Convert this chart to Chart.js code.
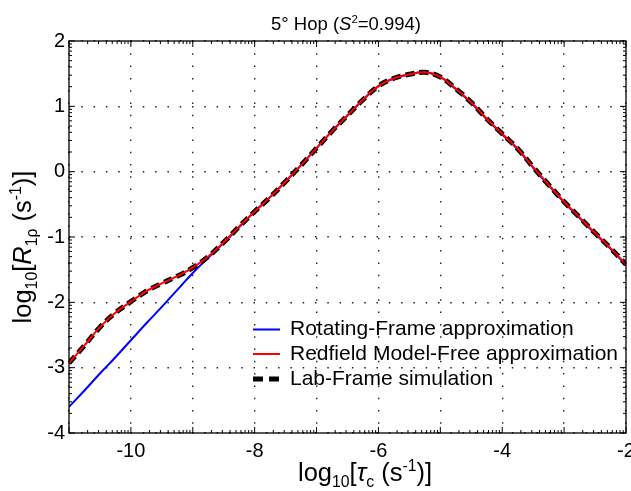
<!DOCTYPE html>
<html>
<head>
<meta charset="utf-8">
<script src="https://cdn.jsdelivr.net/npm/chart.js@4.4.1/dist/chart.umd.min.js"></script>
<style>
  html, body { margin: 0; padding: 0; background: #fff; }
</style>
</head>
<body>
<canvas id="chart" width="631" height="491"></canvas>
<script>
// log10 of correlation time tau_c
const tauLog = [-11, -10.75, -10.5, -10.25, -10, -9.75, -9.5, -9.25, -9, -8.75, -8.5, -8.25,
    -8, -7.75, -7.5, -7.25, -7, -6.75, -6.5, -6.25, -6, -5.75, -5.5, -5.25,
    -5, -4.75, -4.5, -4.25, -4, -3.75, -3.5, -3.25, -3, -2.75, -2.5, -2.25, -2];

// log10 R1rho for each model
const rotatingFrame = [-3.60, -3.35, -3.09, -2.84, -2.58, -2.32, -2.07, -1.81, -1.55, -1.32, -1.09, -0.85,
    -0.61, -0.39, -0.15, 0.10, 0.36, 0.62, 0.86, 1.10, 1.31, 1.43, 1.49, 1.52,
    1.45, 1.26, 1.05, 0.80, 0.57, 0.34, 0.06, -0.21, -0.47, -0.71, -0.95, -1.18, -1.43];
const redfieldMF = [-2.93, -2.66, -2.38, -2.16, -1.99, -1.83, -1.71, -1.60, -1.47, -1.30, -1.08, -0.84,
    -0.61, -0.39, -0.15, 0.10, 0.36, 0.62, 0.86, 1.10, 1.31, 1.43, 1.49, 1.52,
    1.45, 1.27, 1.06, 0.81, 0.58, 0.35, 0.07, -0.20, -0.46, -0.70, -0.94, -1.17, -1.42];
const labFrame = [-2.93, -2.66, -2.38, -2.16, -1.99, -1.83, -1.71, -1.60, -1.47, -1.30, -1.08, -0.84,
    -0.61, -0.39, -0.15, 0.10, 0.36, 0.62, 0.86, 1.10, 1.31, 1.43, 1.49, 1.52,
    1.45, 1.27, 1.06, 0.81, 0.58, 0.35, 0.07, -0.20, -0.46, -0.70, -0.94, -1.17, -1.42];

const seriesLabels = ['Rotating-Frame approximation', 'Redfield Model-Free approximation', 'Lab-Frame simulation'];
const xTickLabels = [-10, -8, -6, -4, -2];
const yTickLabels = [2, 1, 0, -1, -2, -3, -4];

const FONT = "'Liberation Sans', Arial, Helvetica, sans-serif";
Chart.defaults.font.family = FONT;
Chart.defaults.color = '#000';

function points(ys) {
    return tauLog.map((x, i) => ({x: x, y: ys[i]}));
}

// text with italics, sub- and superscripts
function drawRich(ctx, parts, size, x, y) {
    const fontFor = st => {
        const s = (st === 'sub' || st === 'sup') ? size * 0.62 : size;
        return (st === 'i' ? 'italic ' : '') + s + 'px ' + FONT;
    };
    let w = 0;
    parts.forEach(p => { ctx.font = fontFor(p[1]); w += ctx.measureText(p[0]).width; });
    let cx = x - w / 2;
    ctx.textAlign = 'left';
    ctx.textBaseline = 'alphabetic';
    parts.forEach(p => {
        ctx.font = fontFor(p[1]);
        let dy = 0;
        if (p[1] === 'sub') dy = size * 0.22;
        if (p[1] === 'sup') dy = -size * 0.38;
        ctx.fillText(p[0], cx, y + dy);
        cx += ctx.measureText(p[0]).width;
    });
}

const decorations = {
    id: 'decorations',
    afterDraw(chart) {
        const ctx = chart.ctx;
        const a = chart.chartArea;
        const xs = chart.scales.x, ys = chart.scales.y;
        ctx.save();
        ctx.fillStyle = '#000';
        ctx.strokeStyle = '#000';

        // box
        ctx.lineWidth = 1.3;
        ctx.strokeRect(a.left, a.top, a.right - a.left, a.bottom - a.top);

        // inward ticks, major + log-style minor
        ctx.lineWidth = 1;
        ctx.beginPath();
        for (let k = -11; k <= -2; k++) {
            const px = xs.getPixelForValue(k);
            ctx.moveTo(px, a.bottom); ctx.lineTo(px, a.bottom - 6);
            ctx.moveTo(px, a.top); ctx.lineTo(px, a.top + 6);
            if (k < -2) {
                for (let m = 2; m <= 9; m++) {
                    const q = xs.getPixelForValue(k + Math.log10(m));
                    ctx.moveTo(q, a.bottom); ctx.lineTo(q, a.bottom - 3);
                    ctx.moveTo(q, a.top); ctx.lineTo(q, a.top + 3);
                }
            }
        }
        for (let k = -4; k <= 2; k++) {
            const py = ys.getPixelForValue(k);
            ctx.moveTo(a.left, py); ctx.lineTo(a.left + 6, py);
            ctx.moveTo(a.right, py); ctx.lineTo(a.right - 6, py);
            if (k < 2) {
                for (let m = 2; m <= 9; m++) {
                    const q = ys.getPixelForValue(k + Math.log10(m));
                    ctx.moveTo(a.left, q); ctx.lineTo(a.left + 3, q);
                    ctx.moveTo(a.right, q); ctx.lineTo(a.right - 3, q);
                }
            }
        }
        ctx.stroke();

        // legend inside the axes
        ctx.save();
        ctx.beginPath();
        ctx.rect(a.left, a.top, a.right - a.left, a.bottom - a.top);
        ctx.clip();
        const rows = [335, 359.5, 384.5];
        chart.data.datasets.forEach((ds, i) => {
            const yb = rows[i];
            ctx.strokeStyle = ds.borderColor;
            ctx.lineWidth = ds.borderDash ? 5 : ds.borderWidth;
            ctx.setLineDash(ds.borderDash ? [10, 6] : []);
            ctx.beginPath();
            ctx.moveTo(253, yb - 5.5);
            ctx.lineTo(280, yb - 5.5);
            ctx.stroke();
            ctx.setLineDash([]);
            ctx.font = '21px ' + FONT;
            ctx.textAlign = 'left';
            ctx.textBaseline = 'alphabetic';
            ctx.fillText(ds.label, 290, yb);
        });
        ctx.restore();

        // titles
        ctx.fillStyle = '#000';
        drawRich(ctx, [['5° Hop (', ''], ['S', 'i'], ['2', 'sup'], ['=0.994)', '']], 18.5, 346, 30);
        drawRich(ctx, [['log', ''], ['10', 'sub'], ['[', ''], ['τ', 'i'], ['c', 'sub'],
            [' (s', ''], ['-1', 'sup'], [')]', '']], 25.5, 365, 481);
        ctx.translate(31, 247);
        ctx.rotate(-Math.PI / 2);
        drawRich(ctx, [['log', ''], ['10', 'sub'], ['[', ''], ['R', 'i'], ['1ρ', 'sub'],
            [' (s', ''], ['-1', 'sup'], [')]', '']], 25.5, 0, 0);
        ctx.restore();
    }
};

new Chart(document.getElementById('chart'), {
    type: 'line',
    data: {
        datasets: [
            {
                label: seriesLabels[0],
                data: points(rotatingFrame),
                borderColor: '#0000ff',
                borderWidth: 2,
                order: 2,
            },
            {
                label: seriesLabels[1],
                data: points(redfieldMF),
                borderColor: '#ff0000',
                borderWidth: 2,
                order: 0,
            },
            {
                label: seriesLabels[2],
                data: points(labFrame),
                borderColor: '#000000',
                borderWidth: 5,
                borderDash: [9, 5],
                order: 1,
            },
        ],
    },
    options: {
        responsive: false,
        animation: false,
        events: [],
        layout: { padding: { top: 41, right: 5, left: 0, bottom: 0 } },
        elements: {
            point: { radius: 0 },
            line: { tension: 0.4, fill: false },
        },
        plugins: {
            legend: { display: false },
            title: { display: false },
            tooltip: { enabled: false },
        },
        scales: {
            x: {
                type: 'linear',
                min: -11,
                max: -2,
                grid: { color: '#222', lineWidth: 1.4, drawTicks: false },
                border: { display: false, dash: [1.5, 10.8] },
                ticks: {
                    stepSize: 1,
                    autoSkip: false,
                    maxRotation: 0,
                    padding: 6,
                    font: { size: 20 },
                    callback: v => xTickLabels.includes(v) ? String(v) : '',
                },
                afterFit(scale) {
                    scale.height = 58;
                    scale.paddingLeft = 0;
                    scale.paddingRight = 0;
                },
            },
            y: {
                min: -4,
                max: 2,
                grid: { color: '#222', lineWidth: 1.4, drawTicks: false },
                border: { display: false, dash: [1.5, 10.8] },
                ticks: {
                    stepSize: 1,
                    autoSkip: false,
                    padding: 4,
                    font: { size: 20 },
                    callback: v => yTickLabels.includes(v) ? String(v) : '',
                },
                afterFit(scale) {
                    scale.width = 69;
                },
            },
        },
    },
    plugins: [decorations],
});
</script>
</body>
</html>
